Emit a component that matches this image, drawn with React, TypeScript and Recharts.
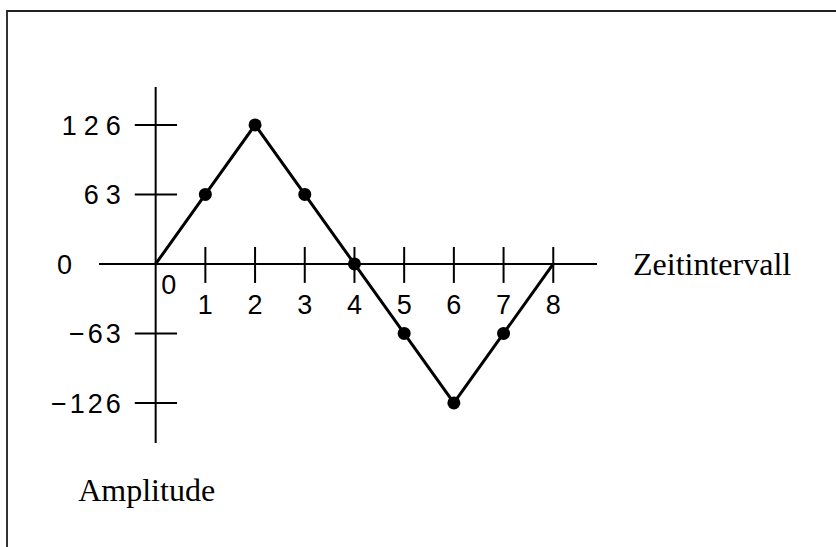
import { LineChart, Line, XAxis, YAxis, ReferenceLine, Label } from 'recharts'

// time steps and sampled amplitude of one triangle period
const zeitintervall = [0, 1, 2, 3, 4, 5, 6, 7, 8]
const amplitude = [0, 63, 126, 63, 0, -63, -126, -63, 0]
// dots are only drawn on the inner samples
const marked = [false, true, true, true, true, true, true, true, false]

const xTicks = [1, 2, 3, 4, 5, 6, 7, 8]
const xTickLabels = ['1', '2', '3', '4', '5', '6', '7', '8']
const yTicks = [126, 63, -63, -126]
const yTickLabels = ['126', '63', '\u221263', '\u2212126']

const chartData = zeitintervall.map((t, i) => ({ t, amplitude: amplitude[i], marked: marked[i] }))

const SANS = '"Liberation Sans", Arial, sans-serif'
const SERIF = '"Liberation Serif", "Times New Roman", serif'
const numStyle = { fontFamily: SANS, fontSize: 27, fill: '#000' }
const wordStyle = { fontFamily: SERIF, fontSize: 32, fill: '#000' }

// tick mark extents, in axis units
const X_TICK_UP = 15.4
const X_TICK_DOWN = -17.2
const Y_TICK_LEFT = -0.42
const Y_TICK_RIGHT = 0.43

export default function App() {
  return (
    <div style={{ position: 'absolute', left: 0, top: 0, width: 836, height: 547, background: '#fff' }}>
      <div
        style={{
          position: 'absolute',
          left: 6,
          top: 10,
          width: 830,
          height: 537,
          borderTop: '2px solid #222',
          borderLeft: '2px solid #333',
          boxSizing: 'border-box',
        }}
      />
      <div style={{ position: 'absolute', left: 0, top: 0 }}>
        <LineChart width={836} height={547} data={chartData} margin={{ top: 87, right: 239, bottom: 104, left: 99 }}>
          <XAxis type="number" dataKey="t" domain={[-1.14, 8.88]} allowDataOverflow hide />
          <YAxis type="number" domain={[-162.3, 160.4]} allowDataOverflow hide />

          {/* axes */}
          <ReferenceLine y={0} stroke="#000" strokeWidth={2}>
            <Label value="0" position="left" offset={27} style={numStyle} fontSize={27} />
          </ReferenceLine>
          <ReferenceLine y={0} stroke="none">
            <Label value="Zeitintervall" position="right" offset={36} style={wordStyle} fontSize={32} />
          </ReferenceLine>
          <ReferenceLine x={0} stroke="#000" strokeWidth={2}>
            <Label value="Amplitude" position="bottom" offset={35} dx={-9} style={wordStyle} fontSize={32} />
          </ReferenceLine>
          <ReferenceLine segment={[{ x: 0, y: X_TICK_UP }, { x: 0, y: X_TICK_DOWN }]} stroke="none">
            <Label value="0" position="bottom" offset={-8} dx={13} style={numStyle} fontSize={27} />
          </ReferenceLine>

          {/* x ticks */}
          {xTicks.map((v, i) => (
            <ReferenceLine
              key={'x' + v}
              segment={[{ x: v, y: X_TICK_UP }, { x: v, y: X_TICK_DOWN }]}
              stroke="#000"
              strokeWidth={2}
            >
              <Label value={xTickLabels[i]} position="bottom" offset={12} style={numStyle} fontSize={27} />
            </ReferenceLine>
          ))}

          {/* y ticks */}
          {yTicks.map((v, i) => (
            <ReferenceLine
              key={'y' + v}
              segment={[{ x: Y_TICK_LEFT, y: v }, { x: Y_TICK_RIGHT, y: v }]}
              stroke="#000"
              strokeWidth={2}
            >
              <Label
                value={yTickLabels[i]}
                position="left"
                offset={v > 0 ? 7 : 11}
                fontSize={27}
                style={{ ...numStyle, letterSpacing: v > 0 ? 7 : 3 }}
              />
            </ReferenceLine>
          ))}

          <Line
            type="linear"
            dataKey="amplitude"
            stroke="#000"
            strokeWidth={3}
            isAnimationActive={false}
            activeDot={false}
            dot={(p: any) =>
              p.payload.marked ? (
                <circle key={'d' + p.index} cx={p.cx} cy={p.cy} r={6.5} fill="#000" stroke="none" />
              ) : (
                <g key={'d' + p.index} />
              )
            }
          />
        </LineChart>
      </div>
    </div>
  )
}
